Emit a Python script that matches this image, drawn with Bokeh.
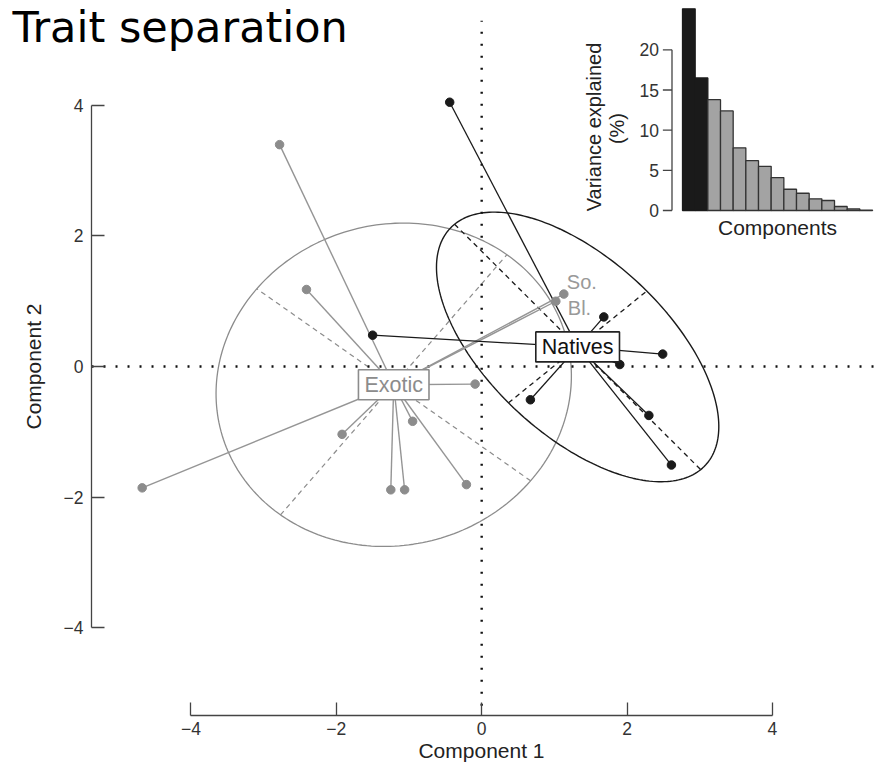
import numpy as np
from bokeh.plotting import figure
from bokeh.models import Range1d, Label, FixedTicker
from bokeh.embed import file_html
from bokeh.resources import INLINE
from bokeh.core.properties import value

# ---------------- data ----------------
exotic_x = [-4.67, -2.78, -2.41, -1.92, -1.25, -1.06, -0.95, -0.21, -0.09, 1.13, 1.02]
exotic_y = [-1.86, 3.40, 1.18, -1.04, -1.89, -1.89, -0.84, -1.81, -0.27, 1.11, 1.00]
native_x = [-0.44, -1.50, 1.68, 2.49, 1.90, 0.67, 2.30, 2.61]
native_y = [4.05, 0.48, 0.76, 0.19, 0.03, -0.51, -0.75, -1.51]
exotic_centroid = [-1.21, -0.28]
native_centroid = [1.32, 0.30]
# ellipse: semi-axis a (along angle), semi-axis b, angle in degrees
exotic_ellipse = [2.53, 2.39, 52.0]
native_ellipse = [2.53, 1.28, -48.0]
so_point = [1.13, 1.11]
bl_point = [1.02, 1.00]
axis_ticks = [-4, -2, 0, 2, 4]

variance_explained = [25.1, 16.5, 13.8, 12.4, 7.8, 6.2, 5.5, 4.1, 2.65, 2.15, 1.45, 1.25, 0.5, 0.2, 0.05]
n_retained = 2
inset_ticks = [0, 5, 10, 15, 20]

GREY = "#8c8c8c"
GREY_L = "#959595"
BLACK = "#1a1a1a"
FONT = "Liberation Sans"

# ranges (the frame covers the whole canvas; axes sit at fixed locations)
X0, X1 = -6.619, 5.486
Y0, Y1 = -6.268, 5.609
YAXIS_AT = -5.367
XAXIS_AT = -5.349

p = figure(width=880, height=775, output_backend="svg", toolbar_location=None,
           x_range=Range1d(X0, X1), y_range=Range1d(Y0, Y1),
           min_border_left=0, min_border_right=0, min_border_top=0, min_border_bottom=0)
p.grid.visible = False
p.outline_line_color = None
p.background_fill_color = "white"
p.border_fill_color = "white"

for ax in (p.xaxis[0], p.yaxis[0]):
    ax.ticker = FixedTicker(ticks=axis_ticks)
    ax.bounds = (min(axis_ticks), max(axis_ticks))
    ax.major_label_overrides = {t: (str(t).replace("-", "\u2212")) for t in axis_ticks}
    ax.axis_line_color = "#444444"
    ax.axis_line_width = 1.3
    ax.major_tick_line_color = "#444444"
    ax.major_tick_line_width = 1.3
    ax.major_tick_in = 13
    ax.major_tick_out = 0
    ax.minor_tick_line_color = None
    ax.major_label_text_font = FONT
    ax.major_label_text_font_size = "17.5px"
    ax.major_label_text_color = "#333333"
    ax.axis_label_text_font = FONT
    ax.axis_label_text_font_size = "21px"
    ax.axis_label_text_font_style = "normal"
    ax.axis_label_text_color = "#222222"
p.xaxis.fixed_location = XAXIS_AT
p.yaxis.fixed_location = YAXIS_AT
p.xaxis.axis_label = "Component 1"
p.yaxis.axis_label = "Component 2"
p.xaxis.major_label_standoff = 6
p.xaxis.axis_label_standoff = 1
p.yaxis.major_label_standoff = 8
p.yaxis.axis_label_standoff = 16


def ellipse_outline(c, e, n=240):
    a, b, ang = e
    th = np.deg2rad(ang)
    t = np.linspace(0, 2 * np.pi, n)
    x = c[0] + a * np.cos(t) * np.cos(th) - b * np.sin(t) * np.sin(th)
    y = c[1] + a * np.cos(t) * np.sin(th) + b * np.sin(t) * np.cos(th)
    return x, y


def ellipse_axes(c, e):
    a, b, ang = e
    th = np.deg2rad(ang)
    ux, uy = np.cos(th), np.sin(th)
    vx, vy = -np.sin(th), np.cos(th)
    x0 = [c[0] - a * ux, c[0] - b * vx]
    y0 = [c[1] - a * uy, c[1] - b * vy]
    x1 = [c[0] + a * ux, c[0] + b * vx]
    y1 = [c[1] + a * uy, c[1] + b * vy]
    return x0, y0, x1, y1


# ellipses
ex, ey = ellipse_outline(exotic_centroid, exotic_ellipse)
p.line(ex, ey, line_color=GREY, line_width=1.3)
nx, ny = ellipse_outline(native_centroid, native_ellipse)
p.line(nx, ny, line_color=BLACK, line_width=1.4)
x0, y0, x1, y1 = ellipse_axes(exotic_centroid, exotic_ellipse)
p.segment(x0=x0, y0=y0, x1=x1, y1=y1, line_color=GREY, line_width=1.2, line_dash="5 4")
x0, y0, x1, y1 = ellipse_axes(native_centroid, native_ellipse)
p.segment(x0=x0, y0=y0, x1=x1, y1=y1, line_color=BLACK, line_width=1.3, line_dash="5 4")

# zero lines (dotted), between the axes and the plot edges
p.segment(x0=[YAXIS_AT, 0], y0=[0, XAXIS_AT + 0.15], x1=[X1, 0], y1=[0, 5.30],
          line_color="#111111", line_width=2.4, line_dash="2 10")

# spokes
p.segment(x0=exotic_x, y0=exotic_y,
          x1=[exotic_centroid[0]] * len(exotic_x), y1=[exotic_centroid[1]] * len(exotic_y),
          line_color=GREY_L, line_width=1.4)
p.segment(x0=native_x, y0=native_y,
          x1=[native_centroid[0]] * len(native_x), y1=[native_centroid[1]] * len(native_y),
          line_color=BLACK, line_width=1.3)

# points
p.scatter(exotic_x, exotic_y, size=8.5, fill_color=GREY, line_color=GREY)
p.scatter(native_x, native_y, size=8.5, fill_color=BLACK, line_color=BLACK)

# group labels
p.add_layout(Label(x=exotic_centroid[0], y=exotic_centroid[1], text="Exotic",
                   text_align="center", text_baseline="middle", text_font=FONT,
                   text_font_size="21.5px", text_color=GREY,
                   background_fill_color="white", border_line_color=GREY,
                   border_line_width=1.6, padding=(6, 3)))
p.add_layout(Label(x=native_centroid[0], y=native_centroid[1], text="Natives",
                   text_align="center", text_baseline="middle", text_font=FONT,
                   text_font_size="21.5px", text_color="#111111",
                   background_fill_color="white", border_line_color="#222222",
                   border_line_width=1.6, padding=(6, 3)))
p.add_layout(Label(x=so_point[0], y=so_point[1], text="So.", x_offset=3, y_offset=12,
                   text_align="left", text_baseline="middle", text_font=FONT,
                   text_font_size="20px", text_color="#999999"))
p.add_layout(Label(x=bl_point[0], y=bl_point[1], text="Bl.", x_offset=12, y_offset=-7,
                   text_align="left", text_baseline="middle", text_font=FONT,
                   text_font_size="20px", text_color="#999999"))

# ---------------- inset: variance explained ----------------
p.extra_x_ranges = {"ix": Range1d(-53.34, 16.13)}
p.extra_y_ranges = {"iy": Range1d(-70.32, 26.14)}
comp = list(range(1, len(variance_explained) + 1))
fills = [BLACK if i < n_retained else "#a3a3a3" for i in range(len(variance_explained))]
lines = [BLACK if i < n_retained else "#333333" for i in range(len(variance_explained))]
p.vbar(x=comp, top=variance_explained, bottom=0, width=1.0, fill_color=fills,
       line_color=lines, line_width=1.3, x_range_name="ix", y_range_name="iy")

axis_x = -0.33
tick_x = -1.05
p.segment(x0=[axis_x], y0=[min(inset_ticks)], x1=[axis_x], y1=[max(inset_ticks)],
          line_color="#444444", line_width=1.3, x_range_name="ix", y_range_name="iy")
p.segment(x0=[tick_x] * len(inset_ticks), y0=inset_ticks, x1=[axis_x] * len(inset_ticks), y1=inset_ticks,
          line_color="#444444", line_width=1.3, x_range_name="ix", y_range_name="iy")
p.text(x=[tick_x - 0.3] * len(inset_ticks), y=inset_ticks, text=[str(t) for t in inset_ticks],
       text_align="right", text_baseline="middle", text_font=value(FONT),
       text_font_size="17.5px", text_color="#333333", x_range_name="ix", y_range_name="iy")
p.text(x=[-6.45], y=[10.4], text=["Variance explained"], angle=np.pi / 2,
       text_align="center", text_baseline="middle", text_font=value(FONT),
       text_font_size="20px", text_color="#222222", x_range_name="ix", y_range_name="iy")
p.text(x=[-4.65], y=[10.2], text=["(%)"], angle=np.pi / 2,
       text_align="center", text_baseline="middle", text_font=value(FONT),
       text_font_size="20px", text_color="#222222", x_range_name="ix", y_range_name="iy")
p.text(x=[(comp[0] + comp[-1]) / 2], y=[-2.1], text=["Components"],
       text_align="center", text_baseline="middle", text_font=value(FONT),
       text_font_size="21px", text_color="#222222", x_range_name="ix", y_range_name="iy")

# title
p.add_layout(Label(x=-6.454, y=5.21, text="Trait separation",
                   text_font="DejaVu Sans", text_font_size="43px", text_color="black",
                   text_baseline="alphabetic", text_align="left"))

open("out.html", "w").write(file_html(p, INLINE))
